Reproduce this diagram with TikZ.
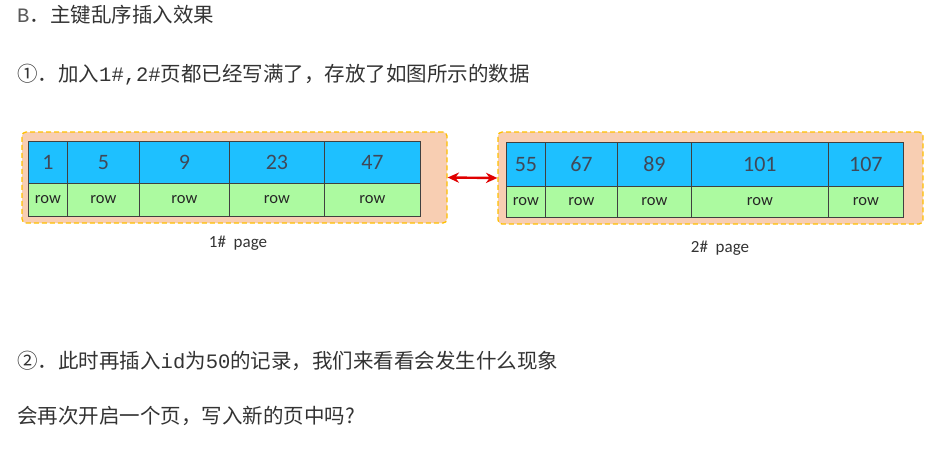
\documentclass[tikz,border=0pt]{standalone}
\usepackage{fontspec}
\setmainfont{Carlito}
\setmonofont{Liberation Mono}
\newfontfamily\cjk{Noto Sans CJK SC}
\usetikzlibrary{arrows.meta, positioning}
\definecolor{keyblue}{RGB}{30,192,255}
\definecolor{rowgreen}{RGB}{172,250,160}
\definecolor{pageorange}{RGB}{248,206,178}
\definecolor{pageyellow}{RGB}{255,192,0}
\definecolor{arrowred}{RGB}{224,0,0}
\definecolor{celltext}{RGB}{64,72,88}
\definecolor{notegray}{RGB}{51,51,51}
\tikzstyle{page_box} = [rectangle, rounded corners=4pt, draw=pageyellow, dash pattern=on 5pt off 3pt, line width=1.3pt, fill=pageorange, minimum width=425pt, inner sep=0pt]
\tikzstyle{key_cell} = [rectangle, anchor=north west, inner sep=0pt, draw=black!75, line width=0.8pt, fill=keyblue, text=celltext, font=\fontsize{22}{22}\selectfont]
\tikzstyle{row_cell} = [rectangle, anchor=north west, inner sep=0pt, draw=black!75, line width=0.8pt, fill=rowgreen, text=black!85, font=\fontsize{16.5}{16.5}\selectfont]
\tikzstyle{page_arrow} = [line width=2.4pt, draw=arrowred, {Stealth[length=4mm, width=3.6mm]}-{Stealth[length=4mm, width=3.6mm]}]
\tikzstyle{page_label} = [text=black!80, font=\fontsize{17}{17}\selectfont]
\tikzstyle{note_text} = [anchor=west, inner sep=0pt, text=notegray, font=\cjk\fontsize{20.5}{21}\selectfont]

\begin{document}
\begin{tikzpicture}[x=1pt, y=-1pt]
\useasboundingbox (0,0) rectangle (931,448);

% Ueberschriften
\node (title) [note_text] at (17,15) {{\ttfamily\color{black!65}B}．主键乱序插入效果};
\node (step1) [note_text] at (17,75) {①．加入{\ttfamily 1\#,2\#}页都已经写满了，存放了如图所示的数据};

% Seiten
\node (page1) [page_box, minimum height=91pt] at (234.5,177.5) {};
\node (page2) [page_box, minimum height=92pt] at (710.5,178) {};

% 1# page
\node (key1) [key_cell, minimum width=39pt, minimum height=42pt] at (28,141) {1};
\node (key2) [key_cell, minimum width=72pt, minimum height=42pt] at (67,141) {5};
\node (key3) [key_cell, minimum width=90pt, minimum height=42pt] at (139,141) {9};
\node (key4) [key_cell, minimum width=95pt, minimum height=42pt] at (229,141) {23};
\node (key5) [key_cell, minimum width=96pt, minimum height=42pt] at (324,141) {47};
\node (row1) [row_cell, minimum width=39pt, minimum height=33pt] at (28,183) {row};
\node (row2) [row_cell, minimum width=72pt, minimum height=33pt] at (67,183) {row};
\node (row3) [row_cell, minimum width=90pt, minimum height=33pt] at (139,183) {row};
\node (row4) [row_cell, minimum width=95pt, minimum height=33pt] at (229,183) {row};
\node (row5) [row_cell, minimum width=96pt, minimum height=33pt] at (324,183) {row};

% 2# page
\node (key6) [key_cell, minimum width=39pt, minimum height=44pt] at (506,142) {55};
\node (key7) [key_cell, minimum width=72pt, minimum height=44pt] at (545,142) {67};
\node (key8) [key_cell, minimum width=74pt, minimum height=44pt] at (617,142) {89};
\node (key9) [key_cell, minimum width=137pt, minimum height=44pt] at (691,142) {101};
\node (key10) [key_cell, minimum width=75pt, minimum height=44pt] at (828,142) {107};
\node (row6) [row_cell, minimum width=39pt, minimum height=31pt] at (506,186) {row};
\node (row7) [row_cell, minimum width=72pt, minimum height=31pt] at (545,186) {row};
\node (row8) [row_cell, minimum width=74pt, minimum height=31pt] at (617,186) {row};
\node (row9) [row_cell, minimum width=137pt, minimum height=31pt] at (691,186) {row};
\node (row10) [row_cell, minimum width=75pt, minimum height=31pt] at (828,186) {row};

% Beschriftung und Verbindung
\node (label1) [page_label] at (238,243) {1\#\ \ page};
\node (label2) [page_label] at (720,248) {2\#\ \ page};
\draw [page_arrow] (page1.east) -- (page2.west);

% Fragen
\node (step2) [note_text] at (17,361) {②．此时再插入{\ttfamily id}为{\ttfamily 50}的记录，我们来看看会发生什么现象};
\node (question) [note_text] at (17,416) {会再次开启一个页，写入新的页中吗?};
\end{tikzpicture}
\end{document}
